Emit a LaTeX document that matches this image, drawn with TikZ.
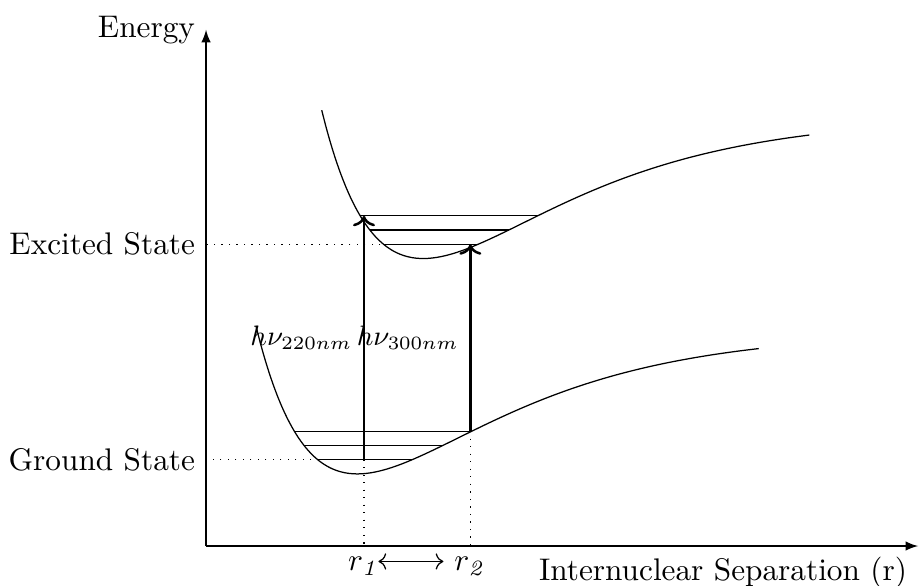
\documentclass[tikz,border=0pt]{standalone}
\usepackage{amsmath}
\usepackage{tikz}
\usetikzlibrary{calc}
\usetikzlibrary{arrows.meta, positioning}

\begin{document}
\begin{tikzpicture}[
    declare function={morse(\r)=1.6*(1-exp(-0.617*\r))^2;},
    axe/.style={-latex},
    photon/.style={->, thick},
    repere/.style={dotted},
    etat/.style={samples=120, smooth}
]
\useasboundingbox (-2.315,-0.449) rectangle (8.067,6.135);

% Axes
\coordinate (O) at (0,0);
\coordinate (Ymax) at (0,5.8);
\coordinate (Xmax) at (8,0);
\draw[axe] (O) -- (Ymax) node[left] (energie) {Energy};
\draw[axe] (O) -- (Xmax) node[below left] (sep) {Internuclear Separation (r)};

% Points de depart et d'arrivee des transitions
\coordinate (depA) at (1.775,0.97);
\coordinate (finA) at (1.775,3.71);
\coordinate (depB) at (2.97,1.29);
\coordinate (finB) at (2.97,3.39);

% Reperes en pointilles
\draw[repere] (depA) -- (depA -| O) node[left] (fond) {Ground State};
\draw[repere] (finB) -- (finB -| O) node[left] (excite) {Excited State};
\draw[repere] (depA) -- (depA |- O) node[below] (r1) {$r_{\mathit{1}}$};
\draw[repere] (depB) -- (depB |- O) node[below] (r2) {$r_{\mathit{2}}$};
\draw[<->, shorten <=-4pt] ([yshift=1.5pt]r1.east) -- ([yshift=1.5pt]r2.west);

% Etat fondamental
\draw[etat, domain=0.561:6.21] plot (\x, {0.81+morse(\x-1.70)});
\draw (0.992,1.29) -- (2.986,1.29);
\draw (1.101,1.13) -- (2.661,1.13);
\draw (1.255,0.97) -- (2.316,0.97);

% Etat excite
\draw[etat, domain=1.30:6.78] plot (\x, {3.23+morse(\x-2.44)});
\draw (1.732,3.71) -- (3.726,3.71);
\draw (1.841,3.55) -- (3.401,3.55);
\draw (1.995,3.39) -- (3.056,3.39);

% Transitions
\draw[photon] (depA) -- node[left, font=\small] (hA) {$h\nu_{220nm}$} (finA);
\draw[photon] (depB) -- node[left, font=\small] (hB) {$h\nu_{300nm}$} (finB);

\end{tikzpicture}
\end{document}
